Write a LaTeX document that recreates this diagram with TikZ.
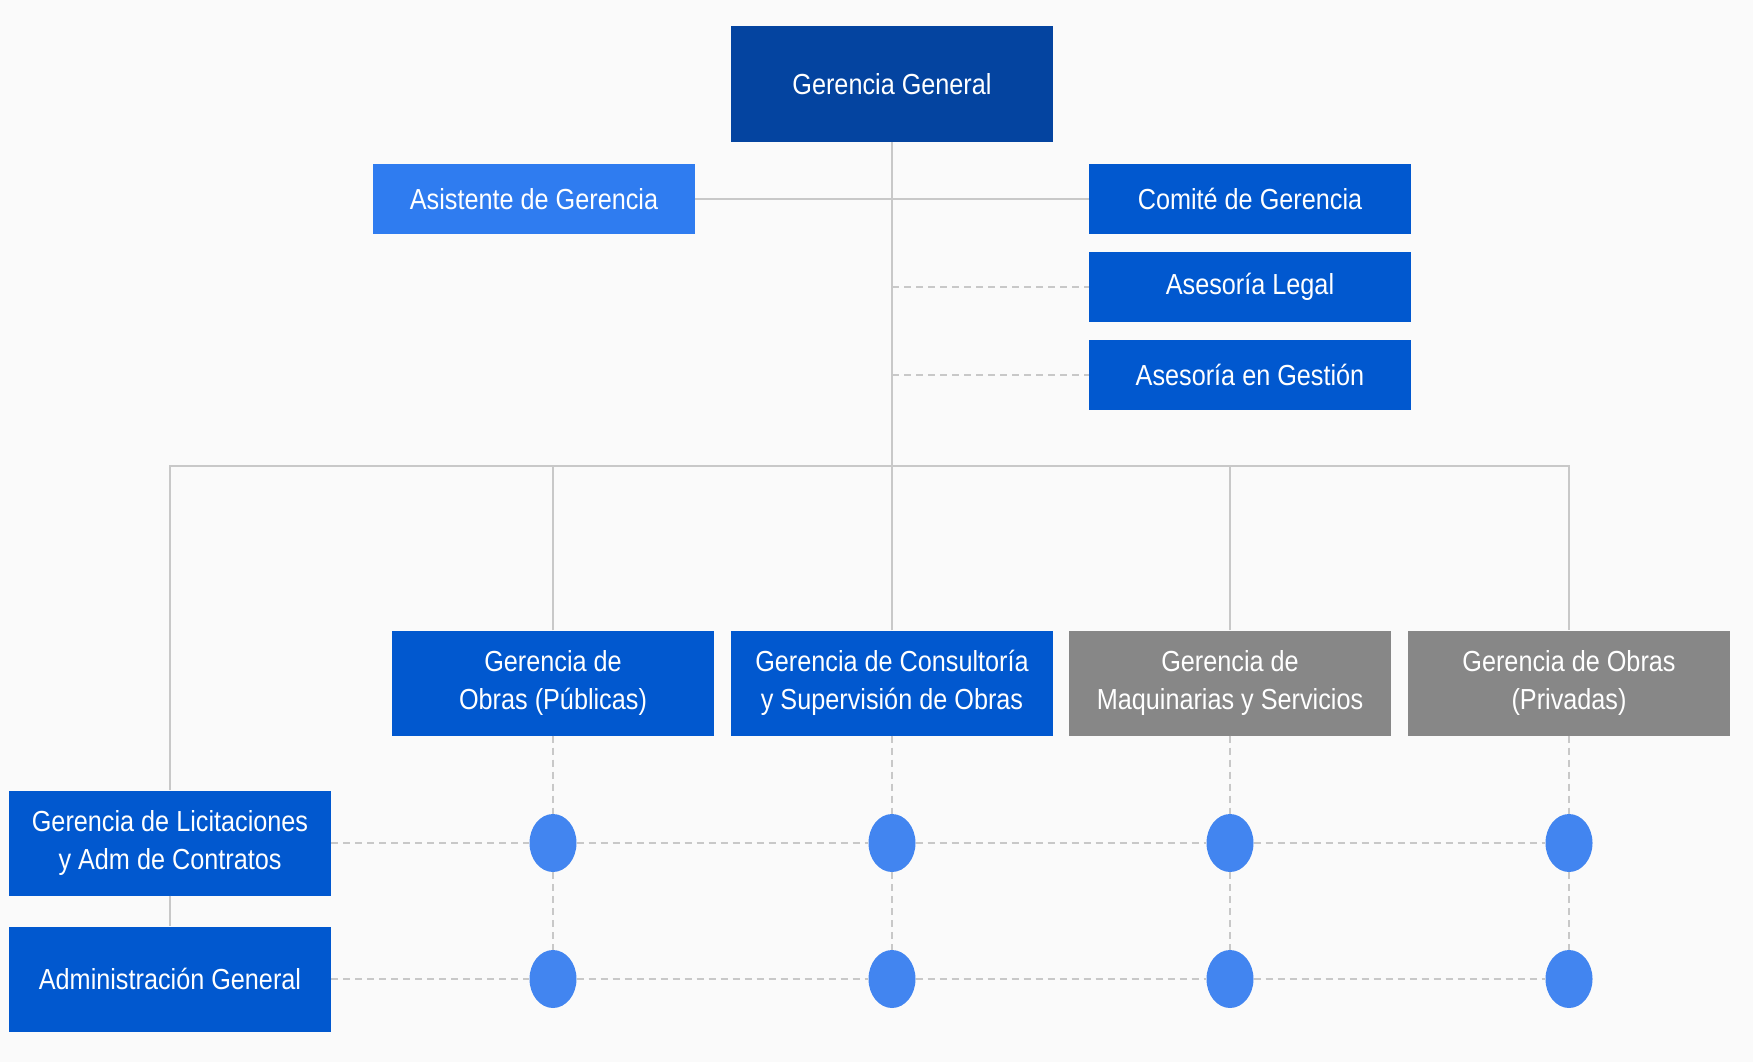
\documentclass[tikz,border=0pt]{standalone}
\usepackage{fontspec}
\setmainfont{Liberation Sans}[FakeStretch=0.87]
\usepackage{tikz}
\usetikzlibrary{positioning,shapes.geometric,calc}
\definecolor{top}  {RGB}{  4, 68,160}
\definecolor{main} {RGB}{  1, 88,207}
\definecolor{light}{RGB}{ 47,124,240}
\definecolor{grey} {RGB}{135,135,135}
\definecolor{dot}  {RGB}{ 66,133,240}
\definecolor{wire} {RGB}{200,200,200}
\definecolor{paper}{RGB}{250,250,250}

\begin{document}
\begin{tikzpicture}[x=1pt,y=-1pt,
    every node/.style={fill=main,text=white,font=\fontsize{29}{38}\selectfont,align=center,
      minimum width=322pt,minimum height=70pt,inner sep=0pt},
    tall/.style={minimum height=105pt},
    dotnode/.style={shape=ellipse,fill=dot,minimum width=47pt,minimum height=58pt},
    solidwire/.style={draw=wire,line width=2pt},
    dashwire/.style={draw=wire,line width=2pt,dash pattern=on 7pt off 5pt}]

    \fill[paper] (0,0) rectangle (1753,1062);
    \useasboundingbox (0,0) rectangle (1753,1062);

    % top level
    \node[fill=top,minimum height=116pt] (gg) at(892,84) {Gerencia General};
    \node[fill=light] (asis) at(534,199) {Asistente de Gerencia};
    \node (comite) at(1250,199) {Comité de Gerencia};
    \node (legal) at(1250,287) {Asesoría Legal};
    \node (gestion) at(1250,375) {Asesoría en Gestión};

    % gerencias
    \node[tall] (gpub) at(553,683) {Gerencia de\\Obras (Públicas)};
    \node[tall] (gcons) at(892,683) {Gerencia de Consultoría\\y Supervisión de Obras};
    \node[tall,fill=grey] (gmaq) at(1230,683) {Gerencia de\\Maquinarias y Servicios};
    \node[tall,fill=grey] (gpriv) at(1569,683) {Gerencia de Obras\\(Privadas)};
    \node[tall] (lic) at(170,843) {Gerencia de Licitaciones\\y Adm de Contratos};
    \node[tall] (adm) at(170,979) {Administración General};

    % dots
    \foreach \n/\x in {1/553,2/892,3/1230,4/1569} {
        \node[dotnode] (a\n) at(\x,843) {};
        \node[dotnode] (b\n) at(\x,979) {};
    }

    \coordinate (bus) at(892,466);
    \draw[solidwire] (gg.south) -- (bus);
    \draw[solidwire] (asis.east) -- (comite.west);
    \draw[dashwire] (gg.south |- legal) -- (legal.west);
    \draw[dashwire] (gg.south |- gestion) -- (gestion.west);
    \draw[solidwire] (lic.north) |- (bus) -| (gpriv.north);
    \draw[solidwire] (gpub.north) -- (gpub.north |- bus);
    \draw[solidwire] (gcons.north) -- (gcons.north |- bus);
    \draw[solidwire] (gmaq.north) -- (gmaq.north |- bus);
    \draw[solidwire] (lic.south) -- (adm.north);

    \draw[dashwire] (gpub.south) -- (a1) -- (b1);
    \draw[dashwire] (gcons.south) -- (a2) -- (b2);
    \draw[dashwire] (gmaq.south) -- (a3) -- (b3);
    \draw[dashwire] (gpriv.south) -- (a4) -- (b4);
    \draw[dashwire] (lic.east) -- (a1) -- (a2) -- (a3) -- (a4);
    \draw[dashwire] (adm.east) -- (b1) -- (b2) -- (b3) -- (b4);

\end{tikzpicture}
\end{document}
